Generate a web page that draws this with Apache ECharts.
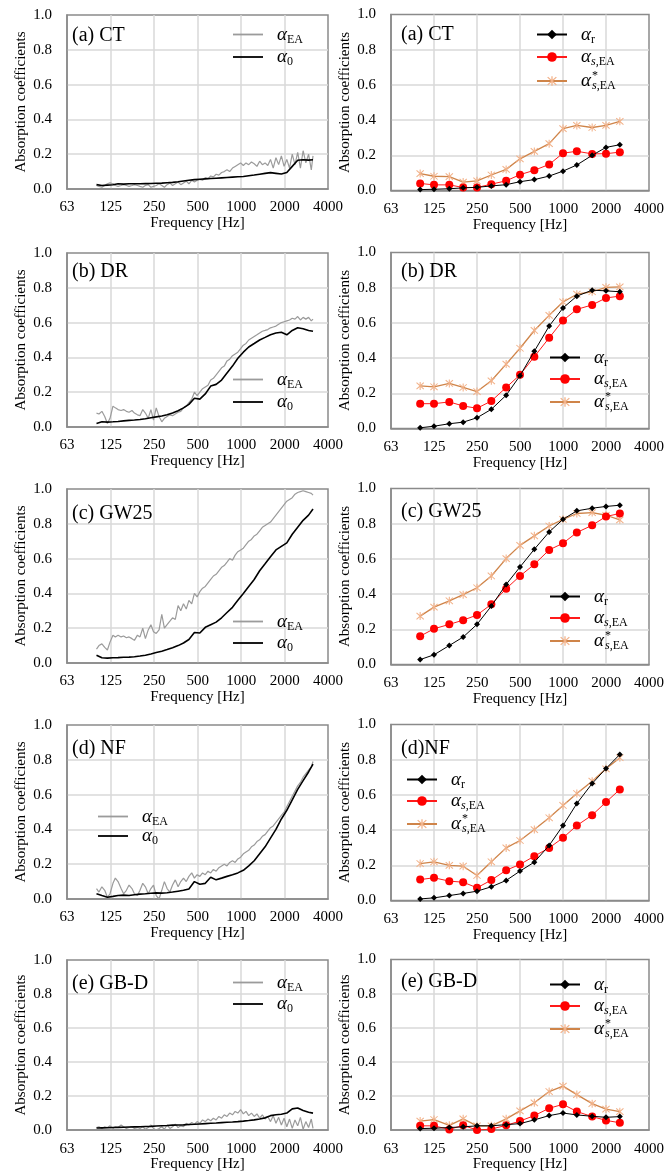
<!DOCTYPE html>
<html>
<head>
<meta charset="utf-8">
<script src="https://cdn.jsdelivr.net/npm/echarts@6/dist/echarts.min.js"></script>
<style>
  html, body { margin: 0; padding: 0; background: #fff; }
  #chart { width: 672px; height: 1173px; }
</style>
</head>
<body>
<div id="chart"></div>
<script>
// frequency grids [Hz]
const freqFine = [100,104,109,114,119,124,130,135,141,148,154,161,168,176,183,192,
  200,209,218,228,238,248,259,271,283,295,308,322,336,351,367,383,
  400,418,436,456,476,497,519,542,566,591,617,644,673,703,734,766,
  800,835,873,911,951,994,1038,1083,1131,1181,1234,1289,1346,1405,1468,1532,
  1600,1671,1745,1822,1903,1987,2075,2167,2263,2363,2468,2577,2691,2810,2935,3065,3150];
const freqCoarse = [100,109,119,130,141,154,168,183,200,218,238,259,283,308,336,367,
  400,436,476,519,566,617,673,734,800,873,951,1038,1131,1234,1346,1468,
  1600,1745,1903,2075,2263,2468,2691,2935,3150];
const freqThird = [100,125,160,200,250,315,400,500,630,800,1000,1250,1600,2000,2500];

const xTicks = ['63','125','250','500','1000','2000','4000'];
const panelLeft = ['(a) CT','(b) DR','(c) GW25','(d) NF','(e) GB-D'];
const panelRight = ['(a) CT','(b) DR','(c) GW25','(d)NF','(e) GB-D'];

// alpha_EA (gray) on freqFine
const eaCT = [0.02,0.015,0.01,0.02,0.03,0.035,0.03,0.02,0.015,0.02,0.025,0.02,0.015,0.02,0.025,0.02,
  0.015,0.01,0.02,0.025,0.01,0.015,0.02,0.03,0.02,0.01,0.025,0.035,0.02,0.03,0.04,0.025,
  0.035,0.045,0.03,0.05,0.04,0.05,0.055,0.05,0.065,0.06,0.075,0.07,0.085,0.08,0.095,0.1,
  0.11,0.1,0.12,0.13,0.14,0.15,0.135,0.15,0.14,0.155,0.145,0.13,0.16,0.14,0.15,0.135,
  0.17,0.12,0.18,0.14,0.19,0.13,0.17,0.12,0.2,0.14,0.21,0.12,0.22,0.15,0.2,0.11,0.19];
const eaDR = [0.08,0.075,0.09,0.06,0.02,0.05,0.12,0.11,0.1,0.095,0.1,0.09,0.085,0.095,0.08,0.07,
  0.065,0.1,0.08,0.05,0.1,0.04,0.11,0.06,0.03,0.05,0.06,0.07,0.065,0.075,0.085,0.09,
  0.11,0.12,0.14,0.16,0.2,0.18,0.2,0.22,0.23,0.24,0.27,0.28,0.3,0.32,0.34,0.35,
  0.38,0.39,0.41,0.42,0.43,0.45,0.47,0.48,0.5,0.51,0.52,0.53,0.54,0.55,0.555,0.56,
  0.57,0.575,0.58,0.59,0.6,0.605,0.61,0.615,0.625,0.62,0.635,0.615,0.63,0.62,0.63,0.61,0.62];
const eaGW = [0.08,0.1,0.11,0.09,0.075,0.12,0.16,0.15,0.16,0.15,0.155,0.145,0.15,0.14,0.13,0.16,
  0.15,0.2,0.14,0.19,0.22,0.18,0.17,0.19,0.28,0.2,0.22,0.24,0.26,0.25,0.33,0.3,
  0.34,0.31,0.36,0.34,0.4,0.38,0.41,0.43,0.44,0.46,0.48,0.5,0.51,0.53,0.55,0.56,
  0.58,0.6,0.59,0.62,0.64,0.65,0.66,0.68,0.7,0.71,0.73,0.74,0.76,0.78,0.79,0.8,
  0.81,0.83,0.85,0.87,0.89,0.91,0.93,0.94,0.95,0.97,0.98,0.985,0.99,0.985,0.98,0.975,0.965];
const eaNF = [0.06,0.04,0.07,0.05,0.01,0.03,0.09,0.12,0.1,0.06,0.03,0.05,0.08,0.06,0.03,0.02,
  0.05,0.09,0.07,0.03,0.06,0.08,0.02,0.0,0.05,0.1,0.06,0.04,0.08,0.11,0.07,0.1,
  0.12,0.1,0.13,0.15,0.12,0.14,0.13,0.15,0.14,0.16,0.15,0.17,0.16,0.18,0.19,0.2,
  0.19,0.21,0.22,0.21,0.23,0.24,0.26,0.27,0.28,0.3,0.31,0.33,0.34,0.36,0.37,0.39,
  0.41,0.42,0.44,0.46,0.48,0.5,0.53,0.56,0.59,0.62,0.65,0.67,0.7,0.72,0.74,0.76,0.79];
const eaGB = [0.015,0.02,0.01,0.02,0.015,0.025,0.01,0.02,0.015,0.03,0.02,0.01,0.015,0.02,0.01,0.015,
  0.01,0.02,0.005,0.015,0.03,0.01,0.0,0.01,0.02,0.005,0.03,0.01,0.02,0.035,0.015,0.025,
  0.02,0.04,0.03,0.045,0.035,0.05,0.04,0.06,0.05,0.065,0.055,0.07,0.06,0.08,0.07,0.09,
  0.08,0.1,0.09,0.11,0.1,0.12,0.095,0.11,0.085,0.1,0.08,0.095,0.07,0.09,0.065,0.08,
  0.05,0.085,0.04,0.075,0.03,0.07,0.02,0.065,0.01,0.06,0.025,0.075,0.005,0.05,0.015,0.065,0.01];

// alpha_0 (black) on freqCoarse
const a0CT = [0.025,0.02,0.022,0.024,0.03,0.028,0.03,0.03,0.03,0.031,0.032,0.033,0.034,0.036,0.038,0.042,
  0.046,0.05,0.054,0.056,0.058,0.06,0.062,0.064,0.066,0.068,0.07,0.072,0.076,0.08,0.085,0.09,
  0.094,0.09,0.086,0.095,0.13,0.165,0.168,0.166,0.168];
const a0DR = [0.02,0.03,0.028,0.03,0.032,0.035,0.038,0.04,0.043,0.047,0.053,0.058,0.063,0.07,0.08,0.093,
  0.11,0.13,0.165,0.16,0.19,0.235,0.245,0.27,0.31,0.35,0.395,0.43,0.46,0.48,0.5,0.515,
  0.53,0.54,0.545,0.53,0.555,0.57,0.565,0.555,0.55];
const a0GW = [0.045,0.03,0.028,0.03,0.031,0.033,0.034,0.036,0.04,0.045,0.052,0.06,0.068,0.077,0.088,0.1,
  0.115,0.135,0.175,0.172,0.205,0.22,0.235,0.26,0.29,0.32,0.36,0.4,0.44,0.48,0.53,0.57,
  0.61,0.65,0.67,0.69,0.74,0.78,0.82,0.85,0.885];
const a0NF = [0.03,0.02,0.01,0.015,0.02,0.022,0.02,0.024,0.028,0.03,0.033,0.035,0.034,0.036,0.04,0.045,
  0.05,0.058,0.1,0.085,0.09,0.125,0.11,0.12,0.13,0.14,0.15,0.165,0.19,0.22,0.26,0.3,
  0.35,0.4,0.46,0.51,0.57,0.63,0.68,0.73,0.775];
const a0GB = [0.012,0.013,0.014,0.015,0.016,0.017,0.018,0.019,0.02,0.021,0.022,0.024,0.026,0.027,0.029,0.03,
  0.031,0.033,0.034,0.036,0.038,0.04,0.042,0.044,0.046,0.048,0.05,0.053,0.056,0.06,0.065,0.072,
  0.085,0.09,0.093,0.1,0.125,0.13,0.115,0.105,0.1];

// 1/3 octave values: alpha_r, alpha_s,EA, alpha*_s,EA
const arCT = [0.005,0.007,0.01,0.015,0.018,0.026,0.033,0.05,0.062,0.082,0.11,0.145,0.2,0.245,0.26];
const asCT = [0.04,0.032,0.032,0.017,0.017,0.036,0.055,0.09,0.115,0.148,0.212,0.223,0.208,0.209,0.218];
const astCT = [0.096,0.081,0.079,0.048,0.055,0.088,0.12,0.18,0.222,0.266,0.352,0.37,0.358,0.37,0.393];
const arDR = [0.004,0.013,0.027,0.036,0.061,0.109,0.189,0.3,0.439,0.582,0.685,0.752,0.786,0.782,0.777];
const asDR = [0.141,0.141,0.151,0.128,0.115,0.156,0.233,0.305,0.408,0.515,0.614,0.677,0.702,0.742,0.752];
const astDR = [0.242,0.237,0.256,0.233,0.21,0.271,0.366,0.456,0.557,0.643,0.719,0.763,0.777,0.802,0.805];
const arGW = [0.028,0.055,0.108,0.156,0.228,0.332,0.455,0.554,0.655,0.753,0.825,0.873,0.888,0.898,0.905];
const asGW = [0.161,0.203,0.228,0.252,0.281,0.342,0.431,0.503,0.569,0.651,0.689,0.75,0.791,0.841,0.858];
const astGW = [0.275,0.326,0.362,0.397,0.436,0.503,0.602,0.677,0.731,0.787,0.825,0.858,0.863,0.848,0.822];
const arNF = [0.009,0.015,0.028,0.04,0.053,0.078,0.114,0.167,0.218,0.313,0.426,0.551,0.665,0.75,0.83];
const asNF = [0.119,0.129,0.11,0.104,0.072,0.116,0.172,0.205,0.252,0.299,0.356,0.426,0.485,0.559,0.631];
const astNF = [0.21,0.22,0.2,0.195,0.142,0.22,0.299,0.341,0.403,0.47,0.54,0.608,0.678,0.748,0.811];
const arGB = [0.009,0.011,0.015,0.019,0.025,0.025,0.032,0.038,0.06,0.085,0.1,0.089,0.081,0.075,0.079];
const asGB = [0.025,0.025,0.004,0.028,0.0,0.006,0.028,0.053,0.085,0.128,0.151,0.109,0.079,0.057,0.043];
const astGB = [0.053,0.062,0.028,0.066,0.025,0.025,0.066,0.113,0.16,0.226,0.258,0.208,0.155,0.123,0.108];

const eaAll = [eaCT, eaDR, eaGW, eaNF, eaGB];
const a0All = [a0CT, a0DR, a0GW, a0NF, a0GB];
const arAll = [arCT, arDR, arGW, arNF, arGB];
const asAll = [asCT, asDR, asGW, asNF, asGB];
const astAll = [astCT, astDR, astGW, astNF, astGB];

// layout per row
const rowTop = [15, 253, 489, 725, 960];
const leftLegend = [[233, 25, 2], [233, 370, 2], [233, 612, 1], [98, 807, -1], [233, 973, 1]];
const rightLegend = [[536, 25, 2], [549, 348, 1], [549, 587, 1], [406, 770, 1], [549, 975, 1]];
const titleY = [[26, 25], [262, 262], [504, 502], [739, 739], [974, 972]];

const serif = 'Liberation Serif, Times New Roman, serif';
const starPath = 'path://M8.8,0H11.2V20H8.8Z M1,2.7L2.7,1L19,17.3L17.3,19Z M17.3,1L19,2.7L2.7,19L1,17.3Z';

const legendText = {
    'αEA': '{a|α}{sub|EA}',
    'α0': '{a|α}{sub|0}',
    'αr': '{a|α}{sub|r}',
    'αs,EA': '{a|α}{si|s}{sub|,EA}',
    'α*s,EA': '{a|α}{st|*}{si|s}{sub|,EA}'
};
const rich = {
    a: { fontFamily: serif, fontStyle: 'italic', fontSize: 19, lineHeight: 22, padding: [0, 0, 0, 9], color: '#000' },
    sub: { fontFamily: serif, fontSize: 12, lineHeight: 10, verticalAlign: 'bottom', color: '#000' },
    si: { fontFamily: serif, fontStyle: 'italic', fontSize: 12, lineHeight: 10, verticalAlign: 'bottom', color: '#000' },
    st: { fontFamily: serif, fontSize: 12, lineHeight: 10, verticalAlign: 'top', width: 0, padding: [0, 0, 0, 1], color: '#000' }
};

let grids = [], xAxes = [], yAxes = [], series = [], legends = [], titles = [];

function axisPair(idx) {
    xAxes.push({
        type: 'log', logBase: 2, min: 62.5, max: 4000, interval: 1, gridIndex: idx,
        name: 'Frequency [Hz]', nameLocation: 'middle', nameGap: 22,
        nameTextStyle: { fontFamily: serif, fontSize: 15, color: '#000' },
        axisLine: { show: true, lineStyle: { color: '#8a8a8a', width: 1.5 } },
        axisTick: { show: false },
        axisLabel: {
            margin: 11, fontFamily: serif, fontSize: 15, color: '#000',
            showMinLabel: true, showMaxLabel: true,
            formatter: function (v) {
                let k = Math.round(Math.log2(v / 62.5));
                return xTicks[k];
            }
        },
        splitLine: { show: true, showMinLine: false, showMaxLine: false, lineStyle: { color: '#d9d9d9', width: 1.5 } }
    });
    yAxes.push({
        type: 'value', min: 0, max: 1, interval: 0.2, gridIndex: idx,
        name: 'Absorption coefficients', nameLocation: 'middle', nameGap: 38,
        nameTextStyle: { fontFamily: serif, fontSize: 15, color: '#000' },
        axisLine: { show: true, lineStyle: { color: '#8a8a8a', width: 1.5 } },
        axisTick: { show: false },
        axisLabel: {
            margin: 15, fontFamily: serif, fontSize: 15, color: '#000',
            formatter: function (v) { return v.toFixed(1); }
        },
        splitLine: { show: true, showMinLine: false, showMaxLine: false, lineStyle: { color: '#d9d9d9', width: 1.5 } }
    });
}

for (let i = 0; i < 5; i++) {
    let li = i * 2, ri = i * 2 + 1;
    grids.push({ left: 67, top: rowTop[i], width: 261, height: 174, show: true, borderColor: '#8a8a8a', borderWidth: 1.5, backgroundColor: 'rgba(0,0,0,0)' });
    grids.push({ left: 391, top: rowTop[i] - 0.5, width: 258, height: 176, show: true, borderColor: '#8a8a8a', borderWidth: 1.5, backgroundColor: 'rgba(0,0,0,0)' });
    axisPair(li);
    axisPair(ri);

    series.push({
        name: 'αEA', type: 'line', xAxisIndex: li, yAxisIndex: li, symbol: 'none', z: 2,
        data: freqFine.map((f, k) => [f, eaAll[i][k]]),
        lineStyle: { color: '#9b9b9b', width: 1.2 }, itemStyle: { color: '#9b9b9b' }
    });
    series.push({
        name: 'α0', type: 'line', xAxisIndex: li, yAxisIndex: li, symbol: 'none', z: 3,
        data: freqCoarse.map((f, k) => [f, a0All[i][k]]),
        lineStyle: { color: '#000', width: 1.6 }, itemStyle: { color: '#000' }
    });
    series.push({
        name: 'αr', type: 'line', xAxisIndex: ri, yAxisIndex: ri, symbol: 'diamond', symbolSize: 6, z: 5,
        data: freqThird.map((f, k) => [f, arAll[i][k]]),
        lineStyle: { color: '#000', width: 1 }, itemStyle: { color: '#000' }
    });
    series.push({
        name: 'αs,EA', type: 'line', xAxisIndex: ri, yAxisIndex: ri, symbol: 'circle', symbolSize: 8, z: 4,
        data: freqThird.map((f, k) => [f, asAll[i][k]]),
        lineStyle: { color: '#ff1a1a', width: 1 }, itemStyle: { color: '#ff0000' }
    });
    series.push({
        name: 'α*s,EA', type: 'line', xAxisIndex: ri, yAxisIndex: ri, symbol: starPath, symbolSize: 8, z: 3,
        data: freqThird.map((f, k) => [f, astAll[i][k]]),
        lineStyle: { color: '#cf8449', width: 1.3 }, itemStyle: { color: '#f2b28a' }
    });

    legends.push({
        orient: 'vertical', left: leftLegend[i][0], top: leftLegend[i][1], itemGap: leftLegend[i][2],
        padding: 0, itemWidth: 30, itemHeight: 1.8, icon: 'rect', data: ['αEA', 'α0'],
        formatter: name => legendText[name], textStyle: { rich: rich }
    });
    legends.push({
        orient: 'vertical', left: rightLegend[i][0], top: rightLegend[i][1], itemGap: rightLegend[i][2],
        padding: 0, itemWidth: 30, itemHeight: 12, data: ['αr', 'αs,EA', 'α*s,EA'],
        formatter: name => legendText[name], textStyle: { rich: rich }
    });

    titles.push({ text: panelLeft[i], left: 72, top: titleY[i][0], padding: 0, textStyle: { fontFamily: serif, fontSize: 20, fontWeight: 'normal', color: '#000' } });
    titles.push({ text: panelRight[i], left: 401, top: titleY[i][1], padding: 0, textStyle: { fontFamily: serif, fontSize: 20, fontWeight: 'normal', color: '#000' } });
}

let chart = echarts.init(document.getElementById('chart'));
let option = {
    animation: false,
    backgroundColor: '#fff',
    title: titles,
    legend: legends,
    grid: grids,
    xAxis: xAxes,
    yAxis: yAxes,
    series: series
};
chart.setOption(option);
</script>
</body>
</html>
